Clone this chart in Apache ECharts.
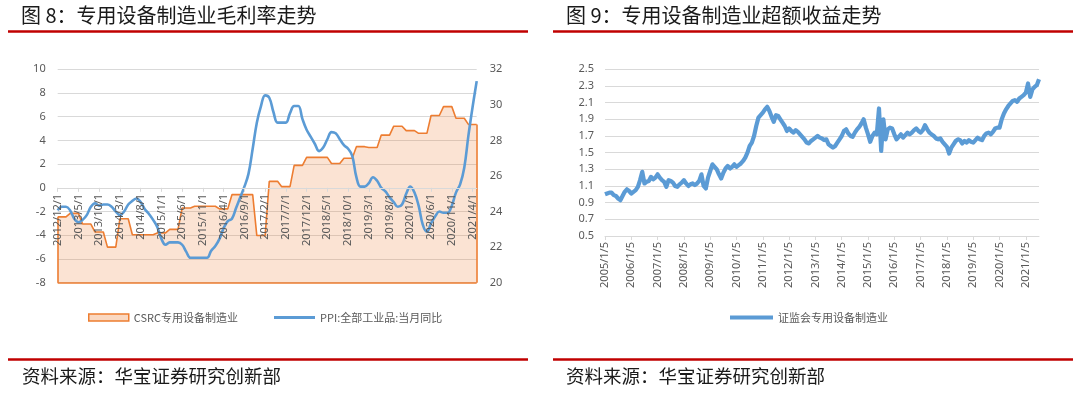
<!DOCTYPE html>
<html><head><meta charset="utf-8">
<script src="https://cdn.jsdelivr.net/npm/echarts@6/dist/echarts.min.js"></script>
<style>html,body{margin:0;padding:0;background:#fff}#c{width:1080px;height:399px}</style>
</head><body><div id="c"></div>
<script>
// ---------- Chart 8: gross margin (area, right axis) & PPI (line, left axis) ----------
const marginStart = [2012, 12];          // first month of the monthly category axis
const marginMonths = 102;                // 2012/12 .. 2021/5
// CSRC 专用设备制造业 gross margin (%), quarterly value repeated per month
const csrcMargin = [
  23.7,23.7,23.7, 23.9,23.9,23.9, 23.3,23.3,23.3, 22.85,22.85,22.85,
  22.0,22.0,22.0, 23.6,23.6,23.6, 22.7,22.7,22.7, 22.7,22.7,22.7,
  22.8,22.8,22.8, 23.0,23.0,23.0, 24.2,24.2,24.2, 24.3,24.3,24.3,
  24.3,24.3,24.3, 24.15,24.15,24.15, 24.95,24.95,24.95, 24.95,24.95,24.95,
  22.65,22.65,22.65, 25.7,25.7,25.7, 25.4,25.4,25.4, 26.6,26.6,26.6,
  27.05,27.05,27.05, 27.05,27.05,27.05, 26.7,26.7,26.7, 27.0,27.0,27.0,
  27.65,27.65,27.65, 27.6,27.6,27.6, 28.3,28.3,28.3, 28.8,28.8,28.8,
  28.55,28.55,28.55, 28.4,28.4,28.4, 29.4,29.4,29.4, 29.9,29.9,29.9,
  29.25,29.25,29.25, 28.9,28.9,28.9
];
// PPI 全部工业品 当月同比 (%)
const ppiYoY = [
  -1.9,
  -1.6,-1.6,-1.9,-2.6,-2.9,-2.7,-2.3,-1.6,-1.3,-1.5,-1.4,-1.4,
  -1.6,-2.0,-2.3,-2.0,-1.4,-1.1,-0.9,-1.2,-1.8,-2.2,-2.7,-3.3,
  -4.3,-4.8,-4.6,-4.6,-4.6,-4.8,-5.4,-5.9,-5.9,-5.9,-5.9,-5.9,
  -5.3,-4.9,-4.3,-3.4,-2.8,-2.6,-1.7,-0.8,0.1,1.2,3.3,5.5,
  6.9,7.8,7.6,6.4,5.5,5.5,5.5,6.3,6.9,6.9,5.8,4.9,
  4.3,3.7,3.1,3.4,4.1,4.7,4.6,4.1,3.6,3.3,2.7,0.9,
  0.1,0.1,0.4,0.9,0.6,0.0,-0.3,-0.8,-1.2,-1.6,-1.4,-0.5,
  0.1,-0.4,-1.5,-3.1,-3.7,-3.0,-2.4,-2.0,-2.1,-2.1,-1.5,-0.4,
  0.3,1.7,4.4,6.8,9.0
];
const leftTicks = [-8,-6,-4,-2,0,2,4,6,8,10];
const rightTicks = [20,22,24,26,28,30,32];

// ---------- Chart 9: excess return index ----------
const excessStart = [2005, 1];
const excessMonths = 199;                // 2005/1 .. 2021/7
const excessIndex = [
  1.00,1.01,1.02,1.02,0.99,0.98,0.95,0.93,0.98,1.03,1.06,1.04,
  1.01,1.03,1.05,1.09,1.17,1.27,1.13,1.15,1.16,1.21,1.18,1.20,
  1.24,1.20,1.17,1.15,1.09,1.17,1.16,1.14,1.10,1.09,1.12,1.14,
  1.17,1.13,1.10,1.12,1.13,1.11,1.13,1.16,1.24,1.10,1.07,1.20,
  1.28,1.36,1.33,1.30,1.24,1.19,1.26,1.31,1.34,1.31,1.33,1.36,
  1.33,1.35,1.37,1.40,1.44,1.50,1.58,1.62,1.70,1.82,1.92,1.95,
  1.98,2.02,2.05,2.00,1.93,1.87,1.95,1.94,1.90,1.86,1.82,1.76,
  1.79,1.76,1.74,1.77,1.75,1.72,1.69,1.66,1.62,1.61,1.64,1.66,
  1.68,1.70,1.68,1.67,1.65,1.66,1.60,1.58,1.56,1.58,1.62,1.66,
  1.70,1.76,1.78,1.73,1.70,1.69,1.74,1.78,1.81,1.85,1.90,1.80,
  1.72,1.63,1.70,1.74,1.72,2.03,1.52,1.90,1.66,1.78,1.80,1.79,
  1.72,1.66,1.69,1.72,1.68,1.71,1.74,1.72,1.74,1.77,1.79,1.76,
  1.74,1.77,1.83,1.78,1.74,1.72,1.70,1.67,1.66,1.67,1.63,1.60,
  1.57,1.49,1.56,1.60,1.64,1.66,1.65,1.61,1.64,1.62,1.65,1.63,
  1.62,1.65,1.68,1.66,1.65,1.70,1.73,1.74,1.72,1.75,1.79,1.80,
  1.80,1.90,1.97,2.02,2.06,2.09,2.12,2.13,2.11,2.15,2.17,2.19,
  2.22,2.33,2.17,2.26,2.29,2.31,2.38
];
const excessTicks = [0.5,0.7,0.9,1.1,1.3,1.5,1.7,1.9,2.1,2.3,2.5];

function monthLabels(start, n, day) {
  const out = [];
  let y = start[0], m = start[1];
  for (let i = 0; i < n; i++) {
    out.push(y + '/' + m + '/' + day);
    m++; if (m > 12) { m = 1; y++; }
  }
  return out;
}
const marginCats = monthLabels(marginStart, marginMonths, 1);
const excessCats = monthLabels(excessStart, excessMonths, 5);

const FONT = 'Noto Sans';
const CJK = 'Noto Sans CJK SC';
const GRAY = '#595959';
const GRID = '#d9d9d9';
const ORANGE = '#ED7D31';
const BLUE = '#5B9BD5';
const RED = '#C00000';

const chart = echarts.init(document.getElementById('c'), null, {renderer: 'canvas'});
const lastCat = marginCats[marginCats.length - 1];
const titleStyle = {fontFamily: CJK, fontSize: 20, fontWeight: 'normal', color: '#1a1a1a'};
const srcStyle = {fontFamily: CJK, fontSize: 18.5, fontWeight: 'normal', color: '#1a1a1a'};
chart.setOption({
  animation: false,
  backgroundColor: '#fff',
  title: [
    {text: '图 8：专用设备制造业毛利率走势', left: 21, top: 5, padding: 0, textStyle: titleStyle},
    {text: '图 9：专用设备制造业超额收益走势', left: 566, top: 5, padding: 0, textStyle: titleStyle},
    {text: '资料来源：华宝证券研究创新部', left: 22, top: 367, padding: 0, textStyle: srcStyle},
    {text: '资料来源：华宝证券研究创新部', left: 566, top: 367, padding: 0, textStyle: srcStyle}
  ],
  graphic: [
    {type: 'line', shape: {x1: 8, y1: 31.5, x2: 528, y2: 31.5}, style: {stroke: RED, lineWidth: 2.3}},
    {type: 'line', shape: {x1: 553, y1: 31.5, x2: 1073, y2: 31.5}, style: {stroke: RED, lineWidth: 2.3}},
    {type: 'line', shape: {x1: 8, y1: 359.5, x2: 528, y2: 359.5}, style: {stroke: RED, lineWidth: 2.3}},
    {type: 'line', shape: {x1: 553, y1: 359.5, x2: 1073, y2: 359.5}, style: {stroke: RED, lineWidth: 2.3}}
  ],
  legend: [
    {data: [{name: 'CSRC专用设备制造业', itemStyle: {color: 'rgba(237,125,49,0.3)', borderColor: ORANGE, borderWidth: 1.5}}],
     left: 88, top: 312, padding: 0, icon: 'rect', itemWidth: 40, itemHeight: 7, itemGap: 5,
     textStyle: {fontFamily: CJK, fontSize: 11, color: GRAY}},
    {data: [{name: 'PPI:全部工业品:当月同比', itemStyle: {color: BLUE, borderWidth: 0}}],
     left: 274, top: 312, padding: 0, icon: 'rect', itemWidth: 41, itemHeight: 3,
     textStyle: {fontFamily: CJK, fontSize: 11, color: GRAY}},
    {data: [{name: '证监会专用设备制造业', itemStyle: {color: BLUE, borderWidth: 0}}],
     left: 730, top: 312, padding: 0, icon: 'rect', itemWidth: 43, itemHeight: 4,
     textStyle: {fontFamily: CJK, fontSize: 11, color: GRAY}}
  ],
  grid: [
    {left: 57.7, top: 69.3, width: 419, height: 213.4, containLabel: false},
    {left: 605, top: 69.3, width: 434, height: 166.7, containLabel: false}
  ],
  xAxis: [
    {type: 'category', gridIndex: 0, data: marginCats, boundaryGap: false, z: 5,
     axisLine: {onZero: false, lineStyle: {color: GRID, width: 1}},
     axisTick: {show: true, interval: 4, length: 4, lineStyle: {color: GRID}},
     axisLabel: {interval: 4, rotate: 90, margin: 6, fontFamily: FONT, fontSize: 11, color: GRAY},
     splitLine: {show: false}},
    {type: 'category', gridIndex: 1, data: excessCats, boundaryGap: false,
     axisLine: {lineStyle: {color: GRID, width: 1}},
     axisTick: {show: true, interval: 11, length: 4, lineStyle: {color: GRID}},
     axisLabel: {interval: 11, rotate: 90, margin: 6, fontFamily: FONT, fontSize: 11, color: GRAY},
     splitLine: {show: false}}
  ],
  yAxis: [
    {type: 'value', gridIndex: 0, min: leftTicks[0], max: leftTicks[leftTicks.length - 1], interval: 2,
     axisLine: {show: false}, axisTick: {show: false},
     axisLabel: {margin: 12, fontFamily: FONT, fontSize: 11, color: GRAY},
     splitLine: {lineStyle: {color: GRID, width: 1}}},
    {type: 'value', gridIndex: 0, position: 'right', min: rightTicks[0], max: rightTicks[rightTicks.length - 1], interval: 2,
     axisLine: {show: false, onZero: false}, axisTick: {show: false},
     axisLabel: {margin: 13, fontFamily: FONT, fontSize: 11, color: GRAY},
     splitLine: {show: false}},
    {type: 'value', gridIndex: 1, min: excessTicks[0], max: excessTicks[excessTicks.length - 1], interval: 0.2,
     axisLine: {show: false}, axisTick: {show: false},
     axisLabel: {margin: 11, fontFamily: FONT, fontSize: 11, color: GRAY, formatter: v => v.toFixed(1)},
     splitLine: {lineStyle: {color: GRID, width: 1}}}
  ],
  series: [
    {name: 'CSRC专用设备制造业', type: 'line', xAxisIndex: 0, yAxisIndex: 1, data: csrcMargin,
     showSymbol: false, symbol: 'none', z: 2,
     lineStyle: {color: ORANGE, width: 1.6},
     itemStyle: {color: ORANGE},
     areaStyle: {color: 'rgba(237,125,49,0.3)', origin: 'start'},
     markLine: {silent: true, symbol: 'none', label: {show: false},
       lineStyle: {color: ORANGE, width: 1.6, type: 'solid'},
       data: [
         [{coord: [marginCats[0], rightTicks[0]]}, {coord: [marginCats[0], csrcMargin[0]]}],
         [{coord: [lastCat, rightTicks[0]]}, {coord: [lastCat, csrcMargin[csrcMargin.length - 1]]}],
         [{coord: [marginCats[0], rightTicks[0]]}, {coord: [lastCat, rightTicks[0]]}]
       ]}},
    {name: 'PPI:全部工业品:当月同比', type: 'line', xAxisIndex: 0, yAxisIndex: 0, data: ppiYoY,
     showSymbol: false, symbol: 'none', smooth: 0.4, z: 4,
     lineStyle: {color: BLUE, width: 2.6}, itemStyle: {color: BLUE}},
    {name: '证监会专用设备制造业', type: 'line', xAxisIndex: 1, yAxisIndex: 2, data: excessIndex,
     showSymbol: false, symbol: 'none', z: 3,
     lineStyle: {color: BLUE, width: 4.2, join: 'round'}, itemStyle: {color: BLUE}}
  ]
});
// Place the category axis of chart 8 on the left axis's zero line (as in the source chart).
const zeroPx = chart.convertToPixel({yAxisIndex: 0}, 0);
const bottomPx = chart.convertToPixel({yAxisIndex: 0}, leftTicks[0]);
chart.setOption({xAxis: [{offset: -(bottomPx - zeroPx)}, {}]});
</script></body></html>
